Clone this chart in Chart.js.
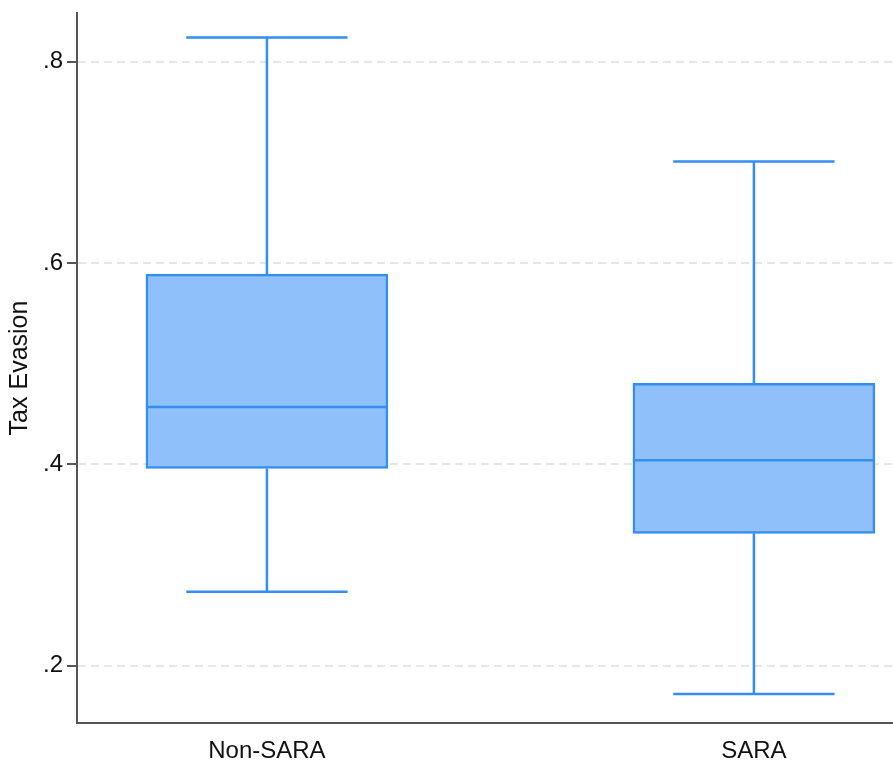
<!DOCTYPE html>
<html>
<head>
<meta charset="utf-8">
<script src="https://cdn.jsdelivr.net/npm/chart.js@4"></script>
<style>
html,body{margin:0;padding:0;background:#fff;}
#wrap{width:893px;height:767px;position:relative;}
</style>
</head>
<body>
<div id="wrap"><canvas id="c" width="893" height="767"></canvas></div>
<script>
// ---- data ----
const categories   = ['Non-SARA', 'SARA'];
const whiskerLow   = [0.2735, 0.172];
const quartile1    = [0.396, 0.3315];
const medians      = [0.457, 0.404];
const quartile3    = [0.589, 0.4805];
const whiskerHigh  = [0.824, 0.701];
const yTickValues  = [0.2, 0.4, 0.6, 0.8];
const yTickLabels  = ['.2', '.4', '.6', '.8'];

const FILL = 'rgb(143,192,250)';
const STROKE = 'rgb(52,141,240)';
const SANS = '"Liberation Sans", Arial, sans-serif';

const boxPlugin = {
  id: 'boxWhiskers',
  afterDatasetsDraw(chart) {
    const ctx = chart.ctx;
    const xs = chart.scales.x, ys = chart.scales.y;
    const meta = chart.getDatasetMeta(0);
    ctx.save();
    ctx.strokeStyle = STROKE;
    ctx.lineWidth = 2.5;
    ctx.lineCap = 'butt';
    categories.forEach((c, i) => {
      const bar = meta.data[i];
      const cx = xs.getPixelForValue(i + 1);
      const half = bar.width / 2;
      const capHalf = bar.width / 3;
      const yLo = ys.getPixelForValue(whiskerLow[i]);
      const yQ1 = ys.getPixelForValue(quartile1[i]);
      const yMed = ys.getPixelForValue(medians[i]);
      const yQ3 = ys.getPixelForValue(quartile3[i]);
      const yHi = ys.getPixelForValue(whiskerHigh[i]);
      ctx.beginPath();
      ctx.moveTo(cx, yQ3); ctx.lineTo(cx, yHi);
      ctx.moveTo(cx - capHalf, yHi); ctx.lineTo(cx + capHalf, yHi);
      ctx.moveTo(cx, yQ1); ctx.lineTo(cx, yLo);
      ctx.moveTo(cx - capHalf, yLo); ctx.lineTo(cx + capHalf, yLo);
      ctx.moveTo(cx - half, yMed); ctx.lineTo(cx + half, yMed);
      ctx.stroke();
    });
    ctx.restore();
  }
};

new Chart(document.getElementById('c'), {
  type: 'bar',
  data: {
    datasets: [{
      data: categories.map((c, i) => ({ x: i + 1, y: [quartile1[i], quartile3[i]] })),
      backgroundColor: FILL,
      borderColor: STROKE,
      borderWidth: 2.5,
      borderSkipped: false,
      barThickness: 242
    }]
  },
  options: {
    responsive: false,
    animation: false,
    devicePixelRatio: 1,
    layout: { padding: { top: 13, right: 0, left: 0, bottom: 0 } },
    plugins: { legend: { display: false }, tooltip: { enabled: false } },
    scales: {
      x: {
        type: 'linear',
        offset: false,
        min: 0.61,
        max: 2.2856,
        grid: { display: true, drawOnChartArea: false, drawTicks: false, offset: false },
        border: { display: true, color: '#555', width: 2 },
        afterBuildTicks(scale) { scale.ticks = categories.map((c, i) => ({ value: i + 1 })); },
        afterFit(scale) { scale.height = 44; scale.paddingLeft = 0; scale.paddingRight = 0; },
        ticks: {
          autoSkip: false,
          maxRotation: 0,
          padding: 14,
          color: '#111',
          font: { family: SANS, size: 24 },
          callback: (v, idx) => categories[idx]
        }
      },
      y: {
        type: 'linear',
        min: 0.1431,
        max: 0.8484,
        afterBuildTicks(scale) { scale.ticks = yTickValues.map(v => ({ value: v })); },
        afterFit(scale) { scale.width = 77; scale.paddingTop = 0; scale.paddingBottom = 0; },
        grid: {
          color: '#e6e6e6',
          lineWidth: 2,
          drawTicks: true,
          tickLength: 10,
          tickColor: '#555',
          tickWidth: 2,
          tickBorderDash: []
        },
        border: { display: true, color: '#555', width: 2, dash: [8, 5] },
        ticks: {
          padding: 4,
          color: '#111',
          font: { family: SANS, size: 24 },
          callback: (v, idx) => yTickLabels[idx]
        },
        title: {
          display: true,
          text: 'Tax Evasion',
          color: '#111',
          font: { family: SANS, size: 25 },
          padding: { top: 5, bottom: 0 }
        }
      }
    }
  },
  plugins: [boxPlugin]
});
</script>
</body>
</html>
